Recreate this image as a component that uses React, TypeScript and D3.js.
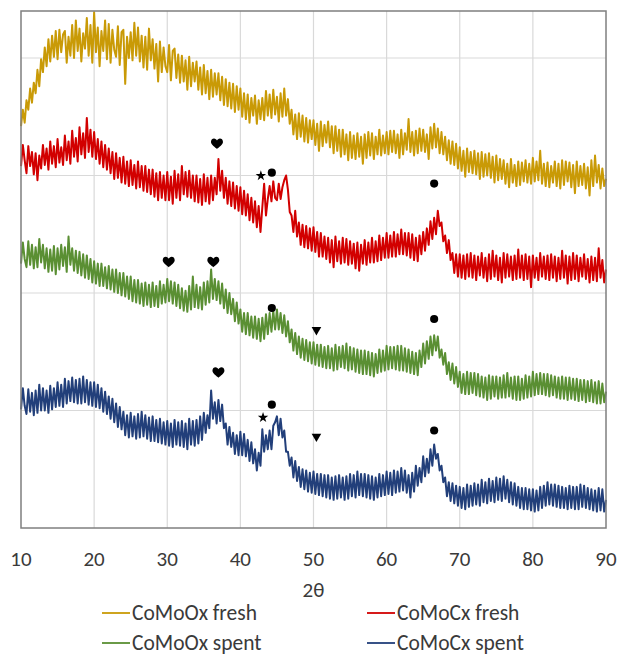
import React, { useEffect, useRef } from "react";
import * as d3 from "d3";

// XRD scan: 10..90 deg 2theta, 0.25 deg step
const THETA_START = 10;
const THETA_STEP = 0.25;

const seriesNames = ["CoMoOx fresh", "CoMoCx fresh", "CoMoOx spent", "CoMoCx spent"];
const seriesColors = ["#C99A06", "#D20000", "#5A8F33", "#223F7A"];

const comoOxFresh = [
  3420, 3560, 3450, 3640, 3560, 3740, 3620, 3790, 3700, 3900, 3760, 3990, 3880, 4090, 3930, 4160,
  3970, 4190, 4010, 4230, 3990, 4240, 4050, 4200, 4230, 3960, 4180, 4020, 4280, 4000, 4320, 4060,
  4250, 3970, 4210, 4080, 4340, 4020, 4280, 3960, 4390, 4050, 4260, 3930, 4230, 4060, 4320, 3990,
  4290, 3960, 4240, 4070, 4010, 4270, 3940, 4220, 4240, 3780, 4180, 4000, 4220, 3980, 4300, 4020,
  4260, 3970, 4190, 3920, 4180, 3900, 4250, 3980, 4160, 3910, 4120, 3800, 4140, 3880, 4090, 3930,
  3880, 4110, 3810, 4060, 4080, 3830, 4030, 3790, 4020, 3800, 3980, 3730, 4010, 3760, 3960, 3800,
  3970, 3730, 3920, 3690, 3940, 3700, 3890, 3650, 3900, 3670, 3870, 3690, 3870, 3640, 3840, 3600,
  3820, 3590, 3790, 3570, 3780, 3540, 3760, 3560, 3740, 3500, 3700, 3480, 3690, 3450, 3660, 3510,
  3680, 3440, 3640, 3480, 3660, 3470, 3720, 3510, 3690, 3490, 3730, 3520, 3670, 3460, 3700, 3500,
  3740, 3510, 3650, 3440, 3560, 3350, 3520, 3310, 3530, 3330, 3510, 3290, 3490, 3280, 3470, 3310,
  3470, 3260, 3440, 3210, 3460, 3250, 3430, 3280, 3460, 3240, 3420, 3190, 3420, 3210, 3390, 3160,
  3390, 3180, 3350, 3130, 3370, 3150, 3340, 3140, 3360, 3160, 3330, 3100, 3350, 3150, 3370, 3170,
  3360, 3140, 3330, 3180, 3390, 3170, 3340, 3190, 3370, 3180, 3380, 3200, 3380, 3190, 3350, 3150,
  3390, 3180, 3360, 3220, 3480, 3200, 3370, 3170, 3380, 3190, 3400, 3210, 3390, 3200, 3350, 3140,
  3410, 3230, 3440, 3240, 3400, 3190, 3370, 3180, 3330, 3130, 3300, 3100, 3290, 3090, 3270, 3060,
  3240, 3040, 3210, 2990, 3230, 3030, 3200, 3020, 3210, 3010, 3190, 2970, 3200, 2990, 3180, 3000,
  3190, 2980, 3160, 2940, 3170, 2960, 3140, 2970, 3130, 2930, 3100, 2900, 3140, 2940, 3090, 2910,
  3120, 2920, 3110, 2950, 3130, 2940, 3100, 2930, 3150, 2950, 3120, 2960, 3210, 2930, 3100, 2910,
  3110, 2900, 3080, 2940, 3120, 2910, 3100, 2890, 3130, 2920, 3120, 2950, 3110, 2900, 3090, 2850,
  3120, 2910, 3080, 2920, 3100, 2890, 3070, 2830, 3130, 2910, 3170, 2940, 3090, 2890, 3060, 2910,
  2973,
];

const comoCxFresh = [
  3080, 3260, 3130, 3020, 3250, 3080, 3200, 3010, 3190, 2960, 3170, 3060, 3260, 3090, 3230, 3050,
  3290, 3100, 3250, 3070, 3310, 3110, 3240, 3090, 3340, 3130, 3290, 3100, 3380, 3160, 3320, 3120,
  3410, 3180, 3360, 3150, 3490, 3200, 3390, 3160, 3370, 3140, 3310, 3100, 3290, 3070, 3260, 3050,
  3230, 3020, 3200, 2970, 3190, 2980, 3150, 2940, 3160, 2930, 3120, 2910, 3130, 2920, 3090, 2890,
  3120, 2900, 3080, 2870, 3080, 2860, 3050, 2840, 3050, 2820, 3020, 2790, 3030, 2810, 3000, 2790,
  3030, 2790, 2990, 2760, 3040, 2810, 3010, 2790, 3080, 2840, 3030, 2820, 3040, 2810, 3000, 2780,
  3000, 2770, 2970, 2750, 3010, 2780, 2980, 2760, 3000, 2790, 2980, 2840, 3140, 2870, 3040, 2810,
  2980, 2760, 2950, 2740, 2940, 2720, 2910, 2700, 2900, 2670, 2870, 2660, 2840, 2620, 2810, 2600,
  2780, 2560, 2740, 2520, 2730, 2930, 2660, 2800, 2910, 2780, 2950, 2810, 2790, 2930, 2800, 2900,
  2960, 3000, 2880, 2690, 2660, 2520, 2700, 2480, 2600, 2410, 2580, 2390, 2570, 2380, 2550, 2360,
  2560, 2350, 2520, 2310, 2510, 2310, 2480, 2290, 2470, 2260, 2450, 2220, 2480, 2270, 2440, 2250,
  2470, 2260, 2460, 2240, 2440, 2250, 2420, 2210, 2430, 2190, 2410, 2250, 2450, 2240, 2430, 2260,
  2470, 2260, 2440, 2270, 2490, 2280, 2470, 2300, 2510, 2300, 2490, 2310, 2520, 2310, 2500, 2330,
  2540, 2330, 2510, 2320, 2510, 2300, 2500, 2280, 2470, 2270, 2490, 2330, 2520, 2360, 2550, 2410,
  2610, 2460, 2640, 2500, 2700, 2570, 2600, 2440, 2490, 2340, 2450, 2280, 2340, 2170, 2330, 2140,
  2330, 2130, 2320, 2120, 2330, 2140, 2340, 2130, 2320, 2110, 2310, 2150, 2340, 2130, 2300, 2100,
  2330, 2120, 2360, 2140, 2320, 2110, 2300, 2090, 2340, 2130, 2330, 2140, 2310, 2110, 2320, 2120,
  2370, 2130, 2320, 2110, 2330, 2120, 2310, 2050, 2320, 2130, 2300, 2110, 2340, 2140, 2310, 2120,
  2320, 2110, 2330, 2130, 2310, 2100, 2300, 2120, 2360, 2130, 2320, 2080, 2310, 2110, 2340, 2120,
  2320, 2100, 2300, 2140, 2330, 2120, 2290, 2090, 2310, 2110, 2300, 2100, 2380, 2130, 2280, 2090,
  2200,
];

const comoOxSpent = [
  2250, 2430, 2290, 2220, 2440, 2240, 2410, 2210, 2390, 2220, 2460, 2260, 2410, 2210, 2380, 2180,
  2370, 2190, 2400, 2160, 2380, 2200, 2410, 2230, 2390, 2180, 2480, 2240, 2380, 2190, 2360, 2170,
  2350, 2150, 2330, 2130, 2320, 2120, 2290, 2090, 2270, 2080, 2250, 2060, 2250, 2060, 2220, 2040,
  2230, 2030, 2200, 2010, 2200, 2000, 2170, 1980, 2170, 1970, 2140, 1950, 2140, 1930, 2110, 1920,
  2110, 1910, 2080, 1890, 2090, 1900, 2070, 1880, 2090, 1890, 2060, 1880, 2100, 1910, 2070, 1920,
  2120, 1930, 2100, 1910, 2090, 1890, 2070, 1870, 2040, 1850, 2020, 1840, 2060, 1860, 2140, 1880,
  2070, 1870, 2050, 1860, 2090, 1900, 2100, 1920, 2200, 1950, 2120, 1940, 2100, 1910, 2080, 1870,
  2030, 1830, 2000, 1820, 1950, 1760, 1920, 1740, 1860, 1670, 1830, 1650, 1830, 1640, 1800, 1620,
  1800, 1610, 1780, 1590, 1790, 1610, 1820, 1650, 1830, 1670, 1850, 1690, 1860, 1690, 1830, 1660,
  1810, 1630, 1760, 1580, 1690, 1510, 1660, 1480, 1630, 1450, 1610, 1430, 1600, 1420, 1580, 1400,
  1580, 1390, 1560, 1380, 1560, 1370, 1540, 1360, 1550, 1360, 1530, 1340, 1560, 1350, 1540, 1370,
  1550, 1360, 1570, 1340, 1540, 1350, 1530, 1330, 1520, 1320, 1510, 1310, 1510, 1310, 1500, 1300,
  1490, 1290, 1480, 1320, 1520, 1330, 1510, 1340, 1550, 1350, 1540, 1360, 1540, 1350, 1550, 1340,
  1550, 1340, 1530, 1330, 1520, 1320, 1500, 1310, 1490, 1300, 1510, 1370, 1570, 1400, 1590, 1440,
  1630, 1470, 1640, 1510, 1630, 1450, 1520, 1390, 1490, 1310, 1410, 1260, 1400, 1230, 1370, 1200,
  1330, 1150, 1310, 1140, 1330, 1140, 1320, 1150, 1320, 1130, 1310, 1120, 1290, 1110, 1280, 1090,
  1300, 1100, 1290, 1120, 1290, 1100, 1280, 1110, 1300, 1110, 1320, 1120, 1280, 1100, 1290, 1090,
  1290, 1090, 1270, 1100, 1300, 1110, 1290, 1120, 1330, 1130, 1310, 1140, 1320, 1140, 1310, 1130,
  1310, 1120, 1300, 1130, 1290, 1110, 1280, 1100, 1290, 1100, 1280, 1090, 1280, 1100, 1270, 1090,
  1270, 1080, 1260, 1090, 1260, 1070, 1250, 1080, 1260, 1070, 1240, 1060, 1250, 1060, 1230, 1070,
  1160,
];

const comoCxSpent = [
  1010, 1190, 1040, 970, 1180, 990, 1150, 960, 1170, 980, 1220, 1000, 1190, 1000, 1170, 980,
  1210, 1010, 1190, 1030, 1240, 1040, 1220, 1030, 1270, 1060, 1250, 1080, 1280, 1070, 1260, 1060,
  1270, 1060, 1290, 1070, 1260, 1050, 1240, 1040, 1240, 1030, 1220, 1020, 1190, 990, 1160, 970,
  1120, 930, 1100, 900, 1060, 860, 1030, 840, 990, 790, 960, 770, 980, 780, 950, 760,
  970, 770, 990, 780, 960, 760, 940, 740, 950, 740, 920, 730, 930, 720, 900, 710,
  910, 700, 890, 690, 920, 710, 900, 700, 910, 690, 890, 670, 930, 710, 910, 700,
  920, 720, 950, 750, 980, 810, 960, 850, 1170, 930, 1070, 890, 1090, 910, 1050, 850,
  890, 710, 860, 690, 810, 630, 790, 620, 820, 620, 800, 610, 750, 570, 730, 550,
  670, 490, 640, 530, 840, 650, 790, 670, 830, 670, 870, 900, 950, 790, 930, 770,
  830, 650, 650, 530, 600, 430, 570, 400, 520, 350, 500, 330, 490, 310, 470, 300,
  480, 290, 460, 280, 460, 270, 450, 260, 450, 250, 430, 240, 440, 250, 450, 260,
  430, 240, 440, 250, 460, 270, 450, 260, 480, 280, 460, 270, 460, 260, 450, 250,
  440, 240, 430, 260, 460, 270, 450, 280, 480, 290, 470, 280, 490, 300, 480, 310,
  510, 320, 490, 300, 450, 260, 470, 310, 530, 360, 510, 390, 610, 440, 590, 470,
  670, 530, 710, 590, 630, 490, 530, 390, 430, 270, 390, 230, 380, 210, 360, 190,
  350, 170, 340, 160, 370, 180, 360, 190, 380, 200, 370, 190, 410, 220, 390, 210,
  420, 230, 400, 220, 430, 240, 420, 230, 440, 250, 410, 220, 390, 200, 380, 190,
  350, 170, 340, 160, 340, 160, 330, 150, 330, 140, 320, 150, 350, 170, 360, 190,
  390, 200, 370, 190, 370, 180, 360, 170, 350, 170, 340, 160, 360, 170, 350, 160,
  350, 160, 370, 180, 360, 170, 340, 160, 330, 150, 320, 140, 340, 150, 330, 140,
  240,
];

const seriesValues = [comoOxFresh, comoCxFresh, comoOxSpent, comoCxSpent];

const xTicks = [10, 20, 30, 40, 50, 60, 70, 80, 90];
const yGrid = [1000, 2000, 3000, 4000];

// phase markers: heart, star, circle, triangle
const markerTheta = [36.8, 42.8, 44.3, 66.5, 30.2, 36.3, 44.3, 50.4, 66.5, 37.0, 43.1, 44.3, 50.4, 66.5];
const markerIntensity = [3269, 2998, 3024, 2931, 2261, 2261, 1872, 1686, 1779, 1321, 940, 1050, 779, 830];
const markerKind = ["heart", "star", "circle", "circle", "heart", "heart", "circle", "triangle", "circle", "heart", "star", "circle", "triangle", "circle"];

const HEART = "M0,5 C-1.5,3.5 -6,0.5 -6,-2 C-6,-4.5 -4.5,-5.5 -3,-5.5 C-1.5,-5.5 -0.5,-4.5 0,-3.5 C0.5,-4.5 1.5,-5.5 3,-5.5 C4.5,-5.5 6,-4.5 6,-2 C6,0.5 1.5,3.5 0,5 Z";

const FONT = "Carlito, Calibri, Lato, 'Open Sans', sans-serif";
const TEXT_COLOR = "#3A3A3A";

const XrdChart = () => {
  const ref = useRef(null);

  useEffect(() => {
    const svg = d3.select(ref.current);
    svg.selectAll("*").remove();

    const margin = { top: 11, right: 13, bottom: 128, left: 21 };
    const width = 619, height = 656;
    const innerW = width - margin.left - margin.right;
    const innerH = height - margin.top - margin.bottom;

    const x = d3.scaleLinear().domain([10, 90]).range([margin.left, margin.left + innerW]);
    const y = d3.scaleLinear().domain([0, 4400]).range([margin.top + innerH, margin.top]);

    const g = svg.append("g");

    // grid
    g.selectAll(".vgrid").data(xTicks.slice(1, -1)).enter().append("line")
      .attr("x1", d => x(d)).attr("x2", d => x(d))
      .attr("y1", y(0)).attr("y2", y(4400))
      .attr("stroke", "#D9D9D9").attr("stroke-width", 1.2);
    g.selectAll(".hgrid").data(yGrid).enter().append("line")
      .attr("x1", x(10)).attr("x2", x(90))
      .attr("y1", d => y(d)).attr("y2", d => y(d))
      .attr("stroke", "#D9D9D9").attr("stroke-width", 1.2);

    const line = d3.line<number>()
      .x((d, i) => x(THETA_START + i * THETA_STEP))
      .y(d => y(d));

    seriesValues.forEach((vals, k) => {
      g.append("path")
        .datum(vals)
        .attr("d", line)
        .attr("fill", "none")
        .attr("stroke", seriesColors[k])
        .attr("stroke-width", 2)
        .attr("stroke-linejoin", "round");
    });

    // plot frame
    g.append("rect")
      .attr("x", x(10)).attr("y", y(4400))
      .attr("width", x(90) - x(10)).attr("height", y(0) - y(4400))
      .attr("fill", "none").attr("stroke", "#7F7F7F").attr("stroke-width", 1.5);

    // markers
    markerTheta.forEach((t, i) => {
      const cx = x(t), cy = y(markerIntensity[i]);
      const kind = markerKind[i];
      let d;
      if (kind === "heart") d = HEART;
      else if (kind === "star") d = d3.symbol().type(d3.symbolStar).size(34)();
      else if (kind === "circle") d = d3.symbol().type(d3.symbolCircle).size(52)();
      else d = d3.symbol().type(d3.symbolTriangle).size(40)();
      g.append("path")
        .attr("d", d)
        .attr("transform", `translate(${cx},${cy})` + (kind === "triangle" ? " rotate(180)" : ""))
        .attr("fill", "#000");
    });

    // x tick labels
    g.selectAll(".xt").data(xTicks).enter().append("text")
      .attr("x", d => x(d)).attr("y", 566)
      .attr("text-anchor", "middle")
      .attr("font-family", FONT).attr("font-size", 21).attr("fill", TEXT_COLOR)
      .text(d => d);

    g.append("text")
      .attr("x", x(50)).attr("y", 597)
      .attr("text-anchor", "middle")
      .attr("font-family", FONT).attr("font-size", 21).attr("fill", TEXT_COLOR)
      .text("2θ");

    // legend 2x2
    const legX = [102, 367];
    const legY = [613, 643];
    seriesNames.forEach((name, k) => {
      const lx = legX[k % 2], ly = legY[Math.floor(k / 2)];
      g.append("line")
        .attr("x1", lx).attr("x2", lx + 28).attr("y1", ly).attr("y2", ly)
        .attr("stroke", seriesColors[k]).attr("stroke-width", 1.8);
      g.append("text")
        .attr("x", lx + 30).attr("y", ly + 7)
        .attr("font-family", FONT).attr("font-size", 21.5).attr("fill", TEXT_COLOR)
        .text(name);
    });
  }, []);

  return (
    <svg ref={ref} width={619} height={656}
      style={{ position: "absolute", left: 0, top: 0, background: "#fff" }} />
  );
};

export default function App() {
  return <XrdChart />;
}
